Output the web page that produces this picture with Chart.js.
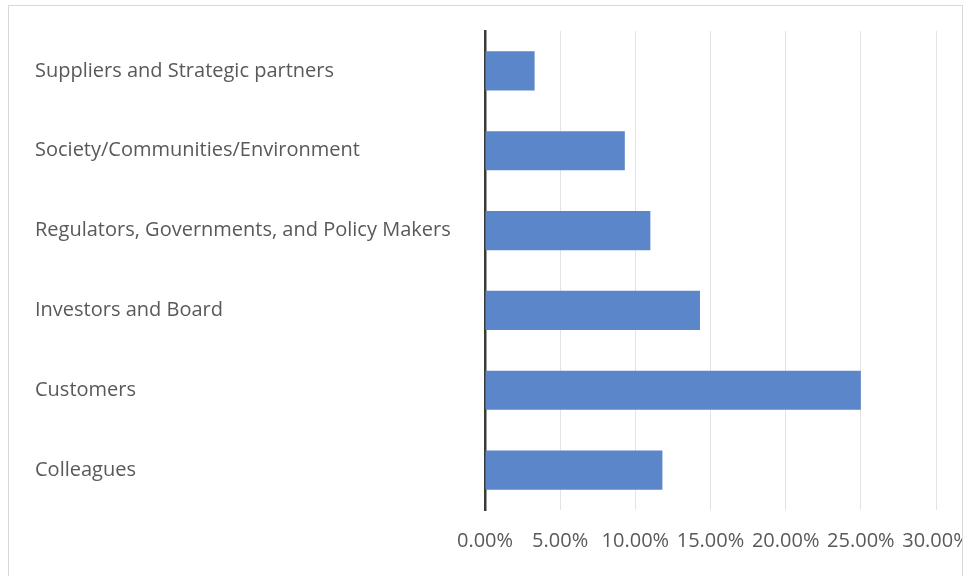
<!DOCTYPE html>
<html>
<head>
<meta charset="utf-8">
<style>
  html, body { margin: 0; padding: 0; background: #fff; overflow: hidden; }
  #box {
    position: absolute; left: 8px; top: 5px;
    width: 953px; height: 580px;
    border: 1px solid #d9d9d9; border-bottom: none;
    background: #fff;
  }
  #wrap { position: relative; width: 953px; height: 570px; }
</style>
</head>
<body>
<div id="box"><div id="wrap"><canvas id="myChart"></canvas></div></div>
<script src="https://cdn.jsdelivr.net/npm/chart.js@4/dist/chart.umd.min.js"></script>
<script>
var groups = [
  "Suppliers and Strategic partners",
  "Society/Communities/Environment",
  "Regulators, Governments, and Policy Makers",
  "Investors and Board",
  "Customers",
  "Colleagues"
];
var shares = [3.3, 9.3, 11.0, 14.3, 25.0, 11.8];
var xTicks = [0, 5, 10, 15, 20, 25, 30];

var labelFont = { family: "'Open Sans', 'Noto Sans', sans-serif", size: 20 };

var ctx = document.getElementById("myChart").getContext("2d");
var myChart = new Chart(ctx, {
  type: "bar",
  data: {
    labels: groups,
    datasets: [{
      label: "Share",
      data: shares,
      backgroundColor: "#5b86c9",
      borderWidth: 0,
      categoryPercentage: 1,
      barPercentage: 0.49
    }]
  },
  options: {
    indexAxis: "y",
    responsive: true,
    maintainAspectRatio: false,
    animation: false,
    layout: { padding: { left: 26, right: 26, top: 25, bottom: 6 } },
    plugins: { legend: { display: false }, tooltip: { enabled: false } },
    scales: {
      x: {
        min: xTicks[0],
        max: xTicks[xTicks.length - 1],
        afterBuildTicks: function (s) { s.ticks = xTicks.map(function (v) { return { value: v }; }); },
        afterFit: function (s) { s.paddingLeft = 0; s.paddingRight = 0; s.height = 60; },
        grid: { color: "#e3e3e3", lineWidth: 1, drawTicks: false },
        border: { display: false },
        ticks: {
          color: "#595959",
          font: labelFont,
          padding: 19,
          maxRotation: 0,
          autoSkip: false,
          callback: function (v) { return v.toFixed(2) + "%"; }
        }
      },
      y: {
        afterFit: function (s) { s.width = 450; s.paddingTop = 0; s.paddingBottom = 0; },
        grid: { display: false, drawTicks: false },
        border: { display: true, color: "#3a3a3a", width: 2.5 },
        ticks: {
          color: "#595959",
          font: labelFont,
          crossAlign: "far",
          autoSkip: false
        }
      }
    }
  }
});
</script>
</body>
</html>
